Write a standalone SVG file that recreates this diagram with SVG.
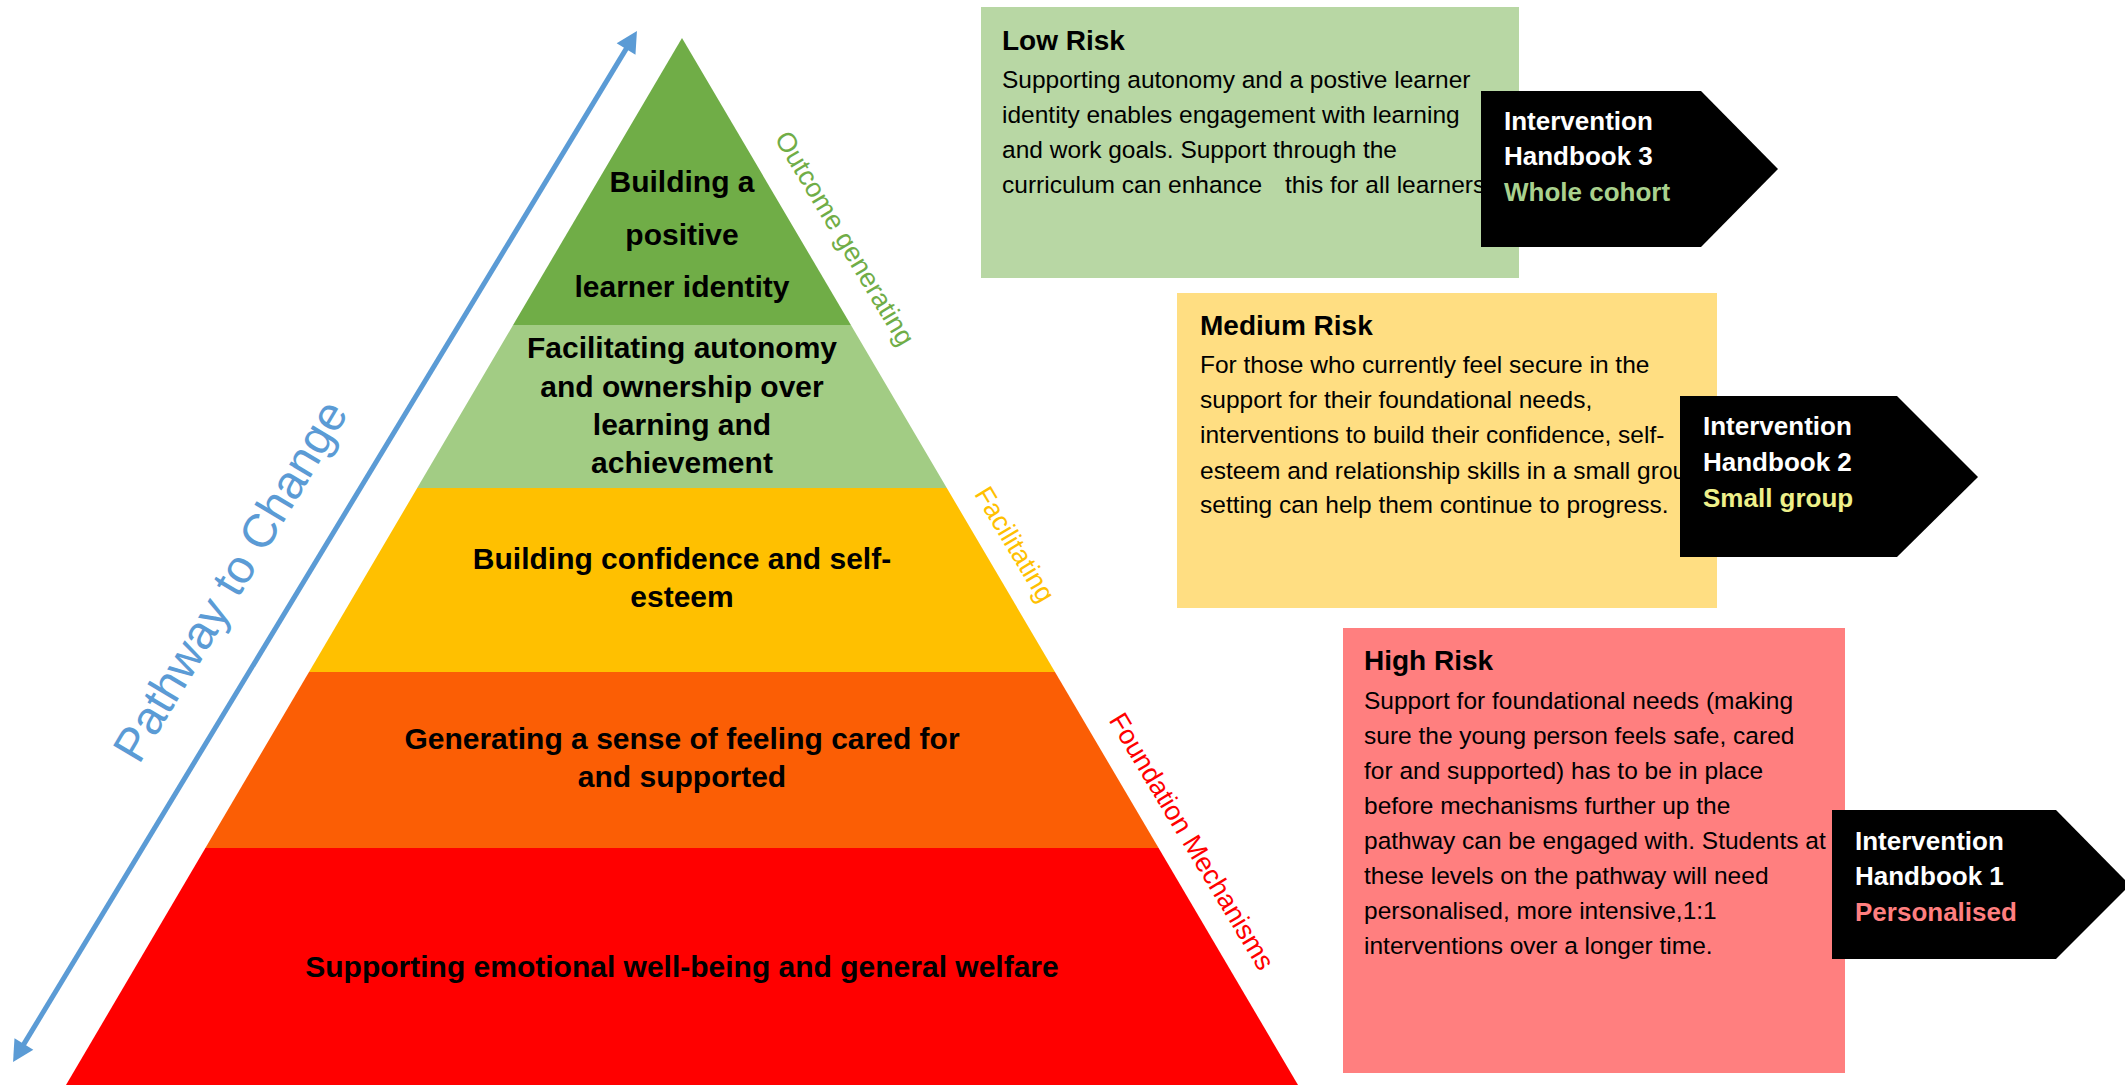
<svg xmlns="http://www.w3.org/2000/svg" width="2125" height="1085" viewBox="0 0 2125 1085">
<style>
text{font-family:"Liberation Sans",Arial,sans-serif}
.pt{font-size:30px;font-weight:bold;fill:#000;text-anchor:middle}
.side{font-size:27px;text-anchor:middle}
.title{font-size:28px;font-weight:bold;fill:#000}
.body{font-size:24.5px;fill:#000}
.hb{font-size:26px;font-weight:bold;fill:#fff}
.arrowbox{fill:#000}
</style>
<defs>
<marker id="ah" markerUnits="userSpaceOnUse" markerWidth="24" markerHeight="24" refX="1" refY="11" orient="auto-start-reverse" overflow="visible">
<path d="M0,0 L21,11 L0,22 Z" fill="#5B9BD5"/>
</marker>
</defs>
<rect width="2125" height="1085" fill="#fff"/>

<g id="level5">
<polygon points="682,38 850.9,325 513.1,325" fill="#70AD47"/>
<text class="pt" x="682" y="192">Building a</text>
<text class="pt" x="682" y="245">positive</text>
<text class="pt" x="682" y="297">learner identity</text>
</g>
<g id="level4">
<polygon points="513.1,325 850.9,325 946.8,488 417.2,488" fill="#A2CC84"/>
<text class="pt" x="682" y="358">Facilitating autonomy</text>
<text class="pt" x="682" y="397">and ownership over</text>
<text class="pt" x="682" y="435">learning and</text>
<text class="pt" x="682" y="473">achievement</text>
</g>
<g id="level3">
<polygon points="417.2,488 946.8,488 1055,672 309,672" fill="#FFC000"/>
<text class="pt" x="682" y="569">Building confidence and self-</text>
<text class="pt" x="682" y="607">esteem</text>
</g>
<g id="level2">
<polygon points="309,672 1055,672 1158.6,848 205.4,848" fill="#FB5E05"/>
<text class="pt" x="682" y="749">Generating a sense of feeling cared for</text>
<text class="pt" x="682" y="787">and supported</text>
</g>
<g id="level1">
<polygon points="205.4,848 1158.6,848 1298,1085 66,1085" fill="#FF0000"/>
<text class="pt" x="682" y="977">Supporting emotional well-being and general welfare</text>
</g>

<g id="label-outcome"><text class="side" fill="#70AD47" transform="translate(837,243) rotate(59)">Outcome generating</text></g>
<g id="label-facilitating"><text class="side" fill="#FFC000" transform="translate(1007,549) rotate(59)">Facilitating</text></g>
<g id="label-foundation"><text class="side" fill="#FF0000" transform="translate(1184,846) rotate(59)">Foundation Mechanisms</text></g>

<g id="pathway-label"><text font-size="47" fill="#5B9BD5" text-anchor="middle" transform="translate(244,589) rotate(-59.2)">Pathway to Change</text></g>

<g id="connectors">
<line x1="23.4" y1="1044.9" x2="626.6" y2="48.1" stroke="#5B9BD5" stroke-width="5" marker-start="url(#ah)" marker-end="url(#ah)"/>
</g>

<g id="low-risk">
<rect x="981" y="7" width="538" height="271" fill="#B8D7A4"/>
<text class="title" x="1002" y="50">Low Risk</text>
<text class="body" x="1002" y="88">Supporting autonomy and a postive learner</text>
<text class="body" x="1002" y="123">identity enables engagement with learning</text>
<text class="body" x="1002" y="158">and work goals. Support through the</text>
<text class="body" x="1002" y="193">curriculum can enhance<tspan x="1285">this for all learners</tspan></text>
</g>
<g id="handbook-3">
<polygon class="arrowbox" points="1481,91 1701,91 1778,169 1701,247 1481,247"/>
<text class="hb" x="1504" y="130">Intervention</text>
<text class="hb" x="1504" y="165">Handbook 3</text>
<text class="hb" x="1504" y="201" style="fill:#A9D18E">Whole cohort</text>
</g>

<g id="medium-risk">
<rect x="1177" y="293" width="540" height="315" fill="#FFDE82"/>
<text class="title" x="1200" y="335">Medium Risk</text>
<text class="body" x="1200" y="373">For those who currently feel secure in the</text>
<text class="body" x="1200" y="408">support for their foundational needs,</text>
<text class="body" x="1200" y="443">interventions to build their confidence, self-</text>
<text class="body" x="1200" y="479">esteem and relationship skills in a small group</text>
<text class="body" x="1200" y="513">setting can help them continue to progress.</text>
</g>
<g id="handbook-2">
<polygon class="arrowbox" points="1680,396 1897,396 1978,477 1897,557 1680,557"/>
<text class="hb" x="1703" y="435">Intervention</text>
<text class="hb" x="1703" y="471">Handbook 2</text>
<text class="hb" x="1703" y="507" style="fill:#EEF08A">Small group</text>
</g>

<g id="high-risk">
<rect x="1343" y="628" width="502" height="445" fill="#FF7F7F"/>
<text class="title" x="1364" y="670">High Risk</text>
<text class="body" x="1364" y="709">Support for foundational needs (making</text>
<text class="body" x="1364" y="744">sure the young person feels safe, cared</text>
<text class="body" x="1364" y="779">for and supported) has to be in place</text>
<text class="body" x="1364" y="814">before mechanisms further up the</text>
<text class="body" x="1364" y="849">pathway can be engaged with. Students at</text>
<text class="body" x="1364" y="884">these levels on the pathway will need</text>
<text class="body" x="1364" y="919">personalised, more intensive,1:1</text>
<text class="body" x="1364" y="954">interventions over a longer time.</text>
</g>
<g id="handbook-1">
<polygon class="arrowbox" points="1832,810 2056,810 2130,885 2056,959 1832,959"/>
<text class="hb" x="1855" y="850">Intervention</text>
<text class="hb" x="1855" y="885">Handbook 1</text>
<text class="hb" x="1855" y="921" style="fill:#FF7F7F">Personalised</text>
</g>
</svg>
